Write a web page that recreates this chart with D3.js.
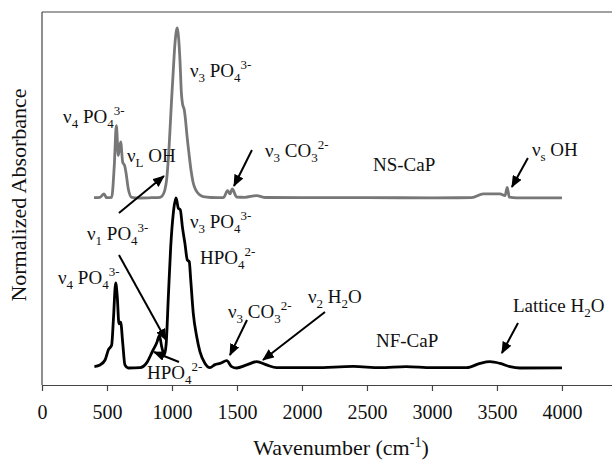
<!DOCTYPE html>
<html>
<head>
<meta charset="utf-8">
<script src="https://cdn.jsdelivr.net/npm/d3@7"></script>
</head>
<body style="margin:0">
<script>
// Spectra: [wavenumber, normalized absorbance above own baseline]
const nsCaP = [
	[400, 0.002], [446, 0.004], [477, 0.024], [497, 0.002], [536, 0.004], [556, 0.19], [572, 0.425],
	[587, 0.25], [605, 0.33], [621, 0.21], [636, 0.19], [646, 0.15], [664, 0.053], [690, 0.004],
	[750, 0], [850, 0.002], [908, 0.004], [935, 0.025], [946, 0.05], [959, 0.11], [977, 0.29],
	[997, 0.58], [1010, 0.75], [1022, 0.9], [1033, 0.98], [1041, 1.0], [1050, 0.95], [1062, 0.8],
	[1072, 0.62], [1082, 0.55], [1094, 0.52], [1104, 0.46], [1115, 0.37], [1131, 0.26], [1147, 0.16],
	[1163, 0.09], [1185, 0.045], [1210, 0.02], [1240, 0.008], [1300, 0.003], [1395, 0.002],
	[1428, 0.043], [1446, 0.024], [1464, 0.053], [1497, 0.006], [1560, 0.004], [1651, 0.014],
	[1720, 0.003], [2000, 0.002], [2500, 0.002], [3000, 0.001], [3305, 0.002], [3395, 0.024],
	[3523, 0.024], [3562, 0.014], [3579, 0.063], [3595, 0.005], [3651, 0.001], [4000, 0.001]
];

const nfCaP = [
	[403, 0.008], [446, 0.018], [485, 0.047], [510, 0.106], [536, 0.135], [549, 0.28], [567, 0.5],
	[579, 0.42], [592, 0.26], [605, 0.27], [621, 0.147], [638, 0.018], [664, 0], [754, 0.002],
	[805, 0.03], [851, 0.1], [882, 0.147], [903, 0.19], [921, 0.125], [941, 0.076], [955, 0.14],
	[972, 0.42], [990, 0.71], [1010, 0.91], [1031, 1.0], [1049, 0.94], [1064, 0.93], [1080, 0.83],
	[1100, 0.73], [1118, 0.635], [1133, 0.625], [1144, 0.52], [1164, 0.32], [1190, 0.185],
	[1215, 0.096], [1254, 0.027], [1292, 0.002], [1331, 0.02], [1369, 0.027], [1421, 0.043],
	[1459, 0.008], [1497, 0.0], [1574, 0.018], [1651, 0.037], [1728, 0.018], [1805, 0.002],
	[2100, 0.002], [2395, 0.009], [2600, 0.002], [2800, 0.008], [3000, 0.002], [3267, 0.002],
	[3369, 0.027], [3446, 0.037], [3523, 0.027], [3600, 0.008], [3677, 0.0], [4000, 0.001]
];

const nsOffset = 1.0;
const xTicks = [0, 500, 1000, 1500, 2000, 2500, 3000, 3500, 4000];

// Annotation labels in data space: [wavenumber, absorbance, segments]
// segment: [text, 'sub' | 'sup' | undefined]
const labels = [
	[1138, 1.712, [['ν'], ['3', 'sub'], [' PO'], ['4', 'sub'], ['3-', 'sup']]],
	[162, 1.441, [['ν'], ['4', 'sub'], [' PO'], ['4', 'sub'], ['3-', 'sup']]],
	[654, 1.212, [['ν'], ['L', 'sub'], [' OH']]],
	[1715, 1.241, [['ν'], ['3', 'sub'], [' CO'], ['3', 'sub'], ['2-', 'sup']]],
	[2546, 1.159, [['NS-CaP']]],
	[3769, 1.247, [['ν'], ['s', 'sub'], [' OH']]],
	[346, 0.753, [['ν'], ['1', 'sub'], [' PO'], ['4', 'sub'], ['3-', 'sup']]],
	[1138, 0.824, [['ν'], ['3', 'sub'], [' PO'], ['4', 'sub'], ['3-', 'sup']]],
	[1215, 0.612, [['HPO'], ['4', 'sub'], ['2-', 'sup']]],
	[123, 0.494, [['ν'], ['4', 'sub'], [' PO'], ['4', 'sub'], ['3-', 'sup']]],
	[808, -0.065, [['HPO'], ['4', 'sub'], ['2-', 'sup']]],
	[1431, 0.294, [['ν'], ['3', 'sub'], [' CO'], ['3', 'sub'], ['2-', 'sup']]],
	[2046, 0.382, [['ν'], ['2', 'sub'], [' H'], ['2', 'sub'], ['O']]],
	[2569, 0.124, [['NF-CaP']]],
	[3623, 0.329, [['Lattice H'], ['2', 'sub'], ['O']]]
];

// Arrows in data space: [fromWn, fromAbs, toWn, toAbs]
const arrows = [
	[592, 0.912, 938, 1.129],
	[592, 0.665, 954, 0.165],
	[1054, 0.035, 862, 0.094],
	[1615, 1.282, 1477, 1.071],
	[1577, 0.282, 1446, 0.076],
	[2177, 0.329, 1700, 0.047],
	[3662, 0.265, 3538, 0.088],
	[3738, 1.235, 3615, 1.065]
];

const serif = 'Times New Roman';
const width = 612, height = 461;
const plot = { left: 42, right: 612, top: 12, bottom: 385 };

const svg = d3.select('body').append('svg')
	.attr('width', width)
	.attr('height', height)
	.attr('font-family', serif);

const x = d3.scaleLinear().domain([0, 4385]).range([plot.left, plot.right]);
const y = d3.scaleLinear().domain([-0.1, 2.1]).range([plot.bottom, 11]);

// frame: top and left lines
svg.append('line')
	.attr('x1', plot.left).attr('x2', plot.right)
	.attr('y1', plot.top).attr('y2', plot.top)
	.attr('stroke', '#444').attr('stroke-width', 1.2);
svg.append('line')
	.attr('x1', plot.left).attr('x2', plot.left)
	.attr('y1', plot.top).attr('y2', plot.bottom)
	.attr('stroke', '#444').attr('stroke-width', 1.2);

const xAxis = svg.append('g')
	.attr('transform', `translate(0,${plot.bottom})`)
	.call(d3.axisBottom(x).tickValues(xTicks).tickSize(6).tickSizeOuter(0).tickPadding(14).tickFormat(d3.format('d')));
xAxis.attr('font-family', serif).attr('font-size', 20);
xAxis.selectAll('path, line').attr('stroke', '#444').attr('stroke-width', 1.2);
xAxis.selectAll('text')
	.attr('font-family', serif)
	.attr('fill', '#111');

// spectra
const line = d3.line()
	.x(d => x(d[0]))
	.curve(d3.curveMonotoneX);

svg.append('path')
	.datum(nsCaP)
	.attr('fill', 'none')
	.attr('stroke', '#777')
	.attr('stroke-width', 2.8)
	.attr('stroke-linejoin', 'round')
	.attr('d', line.y(d => y(d[1] + nsOffset)));

svg.append('path')
	.datum(nfCaP)
	.attr('fill', 'none')
	.attr('stroke', '#000')
	.attr('stroke-width', 2.8)
	.attr('stroke-linejoin', 'round')
	.attr('d', line.y(d => y(d[1])));

// arrows
svg.append('defs').append('marker')
	.attr('id', 'head')
	.attr('markerUnits', 'userSpaceOnUse')
	.attr('viewBox', '0 0 12 10')
	.attr('refX', 11).attr('refY', 5)
	.attr('markerWidth', 12).attr('markerHeight', 10)
	.attr('orient', 'auto')
	.append('path')
	.attr('d', 'M0,0 L12,5 L0,10 Z')
	.attr('fill', '#000');

svg.append('g').selectAll('line')
	.data(arrows)
	.join('line')
	.attr('x1', d => x(d[0])).attr('y1', d => y(d[1]))
	.attr('x2', d => x(d[2])).attr('y2', d => y(d[3]))
	.attr('stroke', '#000')
	.attr('stroke-width', 2)
	.attr('marker-end', 'url(#head)');

// labels with sub/superscripts
labels.forEach(([wn, ab, segs]) => {
	const t = svg.append('text')
		.attr('x', x(wn))
		.attr('y', y(ab))
		.attr('font-family', serif)
		.attr('font-size', 19)
		.attr('fill', '#111');
	let shift = 0;
	segs.forEach(([str, kind]) => {
		const want = kind === 'sub' ? 5 : kind === 'sup' ? -8 : 0;
		t.append('tspan')
			.attr('dy', want - shift)
			.attr('font-size', kind ? 13 : 19)
			.text(str);
		shift = want;
	});
});

// axis titles
svg.append('text')
	.attr('x', 341)
	.attr('y', 455)
	.attr('text-anchor', 'middle')
	.attr('font-family', serif)
	.attr('font-size', 22)
	.attr('fill', '#111')
	.call(t => {
		t.append('tspan').text('Wavenumber (cm');
		t.append('tspan').attr('dy', -8).attr('font-size', 14).text('-1');
		t.append('tspan').attr('dy', 8).text(')');
	});

svg.append('text')
	.attr('transform', 'translate(26,195) rotate(-90)')
	.attr('text-anchor', 'middle')
	.attr('font-family', serif)
	.attr('font-size', 22)
	.attr('fill', '#111')
	.text('Normalized Absorbance');
</script>
</body>
</html>
